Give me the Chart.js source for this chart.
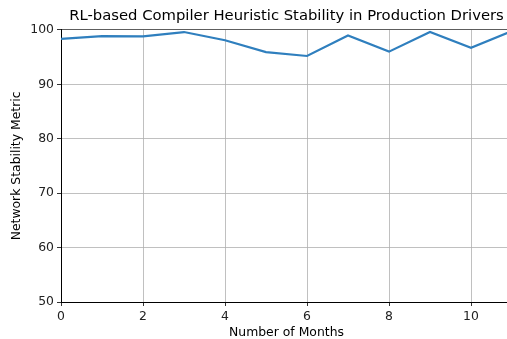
<!DOCTYPE html>
<html>
<head>
<meta charset="utf-8">
<script src="https://cdn.jsdelivr.net/npm/chart.js@4/dist/chart.umd.min.js"></script>
<style>
html,body{margin:0;padding:0;overflow:hidden;background:#fff;width:507px;height:339px;}
#wrap{position:absolute;left:0;top:0;width:512px;height:339px;}
</style>
</head>
<body>
<div id="wrap"><canvas id="c" width="512" height="339"></canvas></div>
<script>
const months = [0,1,2,3,4,5,6,7,8,9,10,11];
const stability = [98.35, 98.85, 98.8, 99.6, 98.1, 95.9, 95.2, 98.95, 96.0, 99.6, 96.7, 99.8];
const xTicks = [0,2,4,6,8,10];
const yTicks = [50,60,70,80,90,100];
const chartTitle = 'RL-based Compiler Heuristic Stability in Production Drivers';
const xLabel = 'Number of Months';
const yLabel = 'Network Stability Metric';

const font = 'DejaVu Sans';
new Chart(document.getElementById('c'), {
  type: 'line',
  data: {
    datasets: [{
      data: months.map((m,i)=>({x:m, y:stability[i]})),
      borderColor: '#2f7fbe',
      borderWidth: 2.2,
      pointRadius: 0,
      tension: 0,
      fill: false
    }]
  },
  options: {
    responsive: false,
    animation: false,
    layout: {padding: 0},
    plugins: {
      legend: {display: false},
      tooltip: {enabled: false},
      title: {
        display: true,
        text: chartTitle,
        fullSize: false,
        color: '#000',
        font: {family: font, size: 14.8, weight: 'normal'},
        padding: {top: 7.5, bottom: 4.6}
      }
    },
    scales: {
      x: {
        type: 'linear',
        min: 0, max: 11,
        afterFit(s){ s.height = 37; },
        afterBuildTicks(s){ s.ticks = xTicks.map(v=>({value:v})); },
        ticks: {color:'#222', font:{family:font,size:12.4}, padding: 3, maxRotation:0},
        grid: {color:'#b0b0b0', lineWidth:0.8, tickLength:4, tickColor:'#000', tickWidth:0.8},
        border: {color:'#000', width:1},
        title: {display:true, text:xLabel, color:'#000', font:{family:font,size:12.4}, padding:{top:2,bottom:-1.5}}
      },
      y: {
        min: 50, max: 100,
        afterFit(s){ s.width = 61; },
        afterBuildTicks(s){ s.ticks = yTicks.map(v=>({value:v})); },
        ticks: {color:'#222', font:{family:font,size:12.4}, padding: 3},
        grid: {
          color: ctx => (ctx.tick && ctx.tick.value === 100) ? '#333' : '#b0b0b0',
          lineWidth: 0.8, tickLength:4, tickColor:'#000', tickWidth:0.8
        },
        border: {color:'#000', width:1},
        title: {display:true, text:yLabel, color:'#000', font:{family:font,size:12.4}, padding:{top:9,bottom:0}}
      }
    }
  }
});
</script>
</body>
</html>
